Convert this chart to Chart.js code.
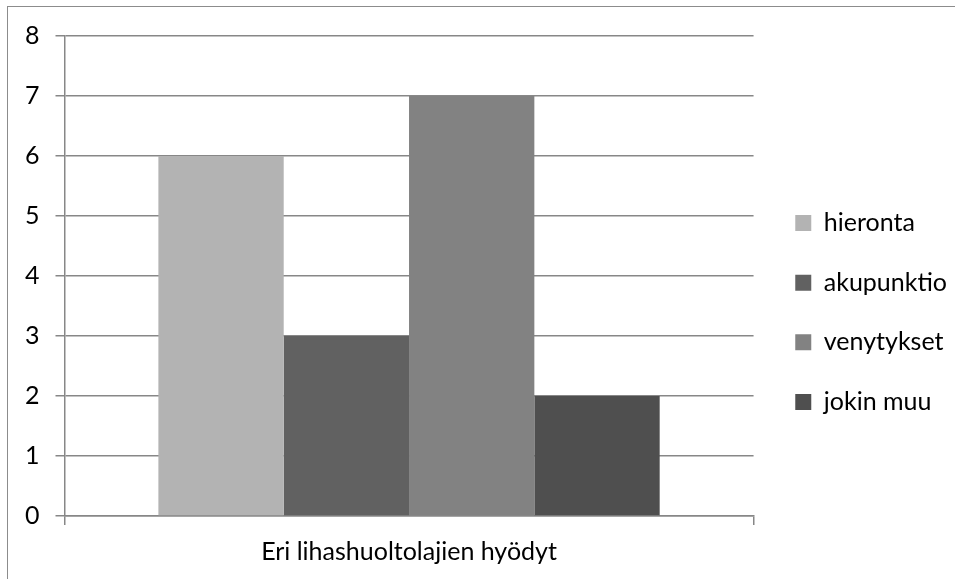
<!DOCTYPE html>
<html>
<head>
<meta charset="utf-8">
<script src="https://cdn.jsdelivr.net/npm/chart.js@4"></script>
<style>
  html, body { margin: 0; padding: 0; background: #fff; overflow: hidden; }
  #wrap { position: relative; width: 955px; height: 579px; }
  #frame { position: absolute; left: 7px; top: 6px; width: 1000px; height: 1000px;
           border: 1px solid #8c8c8c; box-sizing: border-box; pointer-events: none; }
</style>
</head>
<body>
<div id="wrap">
  <canvas id="chart" width="955" height="579"></canvas>
  <div id="frame"></div>
</div>
<script>
// data
const categories = ['Eri lihashuoltolajien hyödyt'];
const seriesNames = ['hieronta', 'akupunktio', 'venytykset', 'jokin muu'];
const seriesValues = [[6], [3], [7], [2]];
const seriesColors = ['#b3b3b3', '#616161', '#828282', '#4f4f4f'];
const yTicks = [0, 1, 2, 3, 4, 5, 6, 7, 8];

const gridColor = '#878787';
const font = { family: 'Lato', size: 25 };

// nudge the legend block to where Excel puts it
const legendShift = {
  id: 'legendShift',
  afterLayout(chart) {
    const lg = chart.legend;
    const dx = 7, dy = 5;
    lg.left += dx; lg.right += dx;
    lg.top += dy; lg.bottom += dy;
  }
};

const ctx = document.getElementById('chart').getContext('2d');
const chart = new Chart(ctx, {
  type: 'bar',
  data: {
    labels: categories,
    datasets: seriesNames.map((name, i) => ({
      label: name,
      data: seriesValues[i],
      backgroundColor: seriesColors[i],
      borderWidth: 0,
      categoryPercentage: 0.7275,
      barPercentage: 1
    }))
  },
  options: {
    responsive: false,
    animation: false,
    layout: { padding: { left: 9, top: 36, right: 5, bottom: 0 } },
    plugins: {
      tooltip: { enabled: false },
      legend: {
        position: 'right',
        labels: {
          boxWidth: 16,
          boxHeight: 16,
          padding: 34.7,
          color: '#000',
          font: font
        }
      }
    },
    scales: {
      x: {
        grid: {
          display: true,
          drawOnChartArea: false,
          drawTicks: true,
          tickLength: 9,
          color: gridColor,
          lineWidth: 1.5
        },
        border: { color: gridColor, width: 1.5 },
        ticks: { color: '#000', font: font, padding: 12 }
      },
      y: {
        min: yTicks[0],
        max: yTicks[yTicks.length - 1],
        afterBuildTicks(scale) {
          scale.ticks = yTicks.map(v => ({ value: v }));
        },
        grid: {
          color: gridColor,
          lineWidth: 1.5,
          tickLength: 9
        },
        border: { color: gridColor, width: 1.5 },
        ticks: { color: '#000', font: font, padding: 16 }
      }
    }
  },
  plugins: [legendShift]
});
</script>
</body>
</html>
